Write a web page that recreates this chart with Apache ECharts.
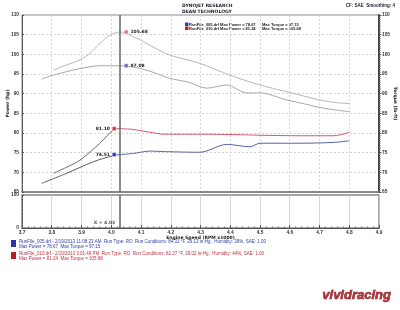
<!DOCTYPE html>
<html><head><meta charset="utf-8">
<script src="https://cdn.jsdelivr.net/npm/echarts@6/dist/echarts.min.js"></script>
<style>html,body{margin:0;padding:0;background:#fff}#c{width:400px;height:310px}</style>
</head><body><div id="c"></div>
<script>
// ---- data ----
const xTicks = [3.7,3.8,3.9,4.0,4.1,4.2,4.3,4.4,4.5,4.6,4.7,4.8,4.9];
const yTicks = [65,70,75,80,85,90,95,100,105,110];
const torque005Rpm = [3.766,3.805,3.85,3.895,3.962,4.03,4.097,4.15,4.197,4.26,4.321,4.388,4.455,4.5,4.59,4.65,4.7,4.75,4.803];
const torque005    = [93.7,94.7,95.6,96.4,97.1,97.1,96.4,95.2,93.9,92.9,91.4,92.2,90.2,90.2,88.4,87.4,86.5,85.9,85.4];
const torque010Rpm = [3.805,3.85,3.895,3.929,3.962,3.996,4.03,4.086,4.14,4.197,4.298,4.399,4.5,4.611,4.7,4.758,4.803];
const torque010    = [96.0,97.3,98.6,100.3,102.8,104.9,105.68,104.1,101.9,99.8,97.7,94.7,92.2,90.1,88.4,87.7,87.5];
const power005Rpm  = [3.766,3.85,3.94,4.01,4.03,4.074,4.13,4.186,4.298,4.388,4.466,4.5,4.634,4.746,4.80];
const power005     = [67.2,69.75,72.7,74.3,74.51,74.8,75.4,75.25,75.1,77.1,76.5,77.4,77.4,77.6,78.0];
const power010Rpm  = [3.805,3.85,3.895,3.962,4.01,4.03,4.074,4.13,4.175,4.25,4.298,4.41,4.52,4.634,4.746,4.79,4.80];
const power010     = [69.75,71.3,73.1,77.4,80.9,81.10,80.9,80.2,79.7,79.7,79.7,79.6,79.4,79.3,79.3,79.9,80.2];
const cursorX = 4.03;
const cursorLabelLevel = 15;
const cursorLabels = {tq010: '105.68', tq005: '97.08', pw010: '81.10', pw005: '74.51'};

const zip = (a, b) => a.map((v, i) => [v, b[i]]);
const before = (a, b) => zip(a, b).filter(p => p[0] <= cursorX);
const after = (a, b) => zip(a, b).filter(p => p[0] >= cursorX);
const valAt = (a, b) => b[a.indexOf(cursorX)];
const F = 'DejaVu Sans';
const L = '"Liberation Sans"';
const lblStyle = {fontSize: 4.8, fontWeight: 'bold', color: '#333', fontFamily: 'Liberation Sans'};

const chart = echarts.init(document.getElementById('c'), null, {renderer: 'canvas'});
const mp = (coord, txt, color, side) => ({
  coord: coord, symbol: 'rect', symbolSize: 4,
  symbolOffset: [side === 'right' ? 6 : -6, 0],
  itemStyle: {color: color, borderColor: '#fff', borderWidth: 0.5},
  label: {show: true, position: side, formatter: txt, fontSize: 4.5, fontWeight: 'bold', color: '#222', fontFamily: F, distance: 2}
});
const lineS = (data, color, yIdx, z, extra) => Object.assign({
  type: 'line', xAxisIndex: 0, yAxisIndex: yIdx, data: data, smooth: 0.3, showSymbol: false,
  lineStyle: {color: color, width: 1}, itemStyle: {color: color}, z: z
}, extra || {});

chart.setOption({
  animation: false,
  grid: [
    {left: 22, right: 21, top: 15, height: 177, show: true, borderColor: '#888', borderWidth: 1, containLabel: false, outerBoundsMode: 'none'},
    {left: 22, right: 21, top: 195, height: 33, show: true, borderColor: '#888', borderWidth: 1.5, containLabel: false, outerBoundsMode: 'none'}
  ],
  xAxis: [
    {gridIndex: 0, type: 'value', min: 3.7, max: 4.9, interval: 0.1,
     axisLabel: {show: false}, axisTick: {show: false},
     axisLine: {lineStyle: {color: '#777', width: 1.5}},
     splitLine: {show: true, lineStyle: {color: '#ccc', type: [2, 2], width: 0.8}}},
    {gridIndex: 1, type: 'value', min: 3.7, max: 4.9, interval: 0.1,
     axisLabel: {...lblStyle, margin: 2, formatter: v => v.toFixed(1)},
     axisTick: {show: true, inside: true, length: 3, lineStyle: {color: '#555'}},
     minorTick: {show: true, splitNumber: 5, length: 1.5, lineStyle: {color: '#777'}},
     axisLine: {lineStyle: {color: '#555', width: 1}},
     splitLine: {show: true, lineStyle: {color: '#ccc', width: 0.8}},
     name: 'Engine Speed (RPM x1000)', nameLocation: 'middle', nameGap: 7, nameMoveOverlap: false,
     nameTextStyle: {fontSize: 4.5, fontWeight: 'bold', color: '#222', fontFamily: F}}
  ],
  yAxis: [
    {gridIndex: 0, type: 'value', min: 65, max: 110, interval: 5, position: 'left',
     axisLabel: {...lblStyle, margin: 3},
     axisLine: {show: true, lineStyle: {color: '#555', width: 1}},
     axisTick: {show: true, inside: true, length: 2, lineStyle: {color: '#555'}},
     minorTick: {show: true, splitNumber: 5, length: 1, lineStyle: {color: '#777'}},
     splitLine: {show: true, lineStyle: {color: '#ccc', type: [2, 2], width: 0.8}},
     name: 'Power (hp)', nameLocation: 'middle', nameGap: 12, nameRotate: 90, nameMoveOverlap: false,
     nameTextStyle: {fontSize: 4.5, fontWeight: 'bold', color: '#222', fontFamily: F}},
    {gridIndex: 0, type: 'value', min: 65, max: 110, interval: 5, position: 'right',
     axisLabel: {...lblStyle, margin: 3},
     axisLine: {show: true, lineStyle: {color: '#444', width: 2}},
     axisTick: {show: true, inside: false, length: 2.5, lineStyle: {color: '#555'}},
     minorTick: {show: true, splitNumber: 10, length: 1.5, lineStyle: {color: '#666'}},
     splitLine: {show: false},
     name: 'Torque (lb-ft)', nameLocation: 'middle', nameGap: 14, nameRotate: -90, nameMoveOverlap: false,
     nameTextStyle: {fontSize: 4.5, fontWeight: 'bold', color: '#222', fontFamily: F}},
    {gridIndex: 1, type: 'value', min: 0, max: 100, interval: 100,
     axisLabel: {...lblStyle, margin: 3},
     axisLine: {show: true, lineStyle: {color: '#555'}},
     axisTick: {show: true, inside: true, length: 2, lineStyle: {color: '#555'}},
     minorTick: {show: true, splitNumber: 10, length: 1, lineStyle: {color: '#777'}},
     splitLine: {show: false}}
  ],
  series: [
    lineS(zip(torque010Rpm, torque010), '#b8b8b8', 1, 2,
      {markPoint: {data: [mp([cursorX, valAt(torque010Rpm, torque010)], cursorLabels.tq010, '#e0788a', 'right')]}}),
    lineS(zip(torque005Rpm, torque005), '#a8a8a8', 1, 2,
      {markPoint: {data: [mp([cursorX, valAt(torque005Rpm, torque005)], cursorLabels.tq005, '#6670c8', 'right')]}}),
    lineS(before(power010Rpm, power010), '#6a6a6a', 0, 3),
    lineS(after(power010Rpm, power010), '#d8576a', 0, 3,
      {markPoint: {data: [mp([cursorX, valAt(power010Rpm, power010)], cursorLabels.pw010, '#e03048', 'left')]}}),
    lineS(before(power005Rpm, power005), '#5a5a5a', 0, 3),
    lineS(after(power005Rpm, power005), '#5563a8', 0, 3,
      {markPoint: {data: [mp([cursorX, valAt(power005Rpm, power005)], cursorLabels.pw005, '#2c3cc0', 'left')]},
       markLine: {symbol: 'none', silent: true, label: {show: false},
         lineStyle: {color: '#666', width: 1.5, type: 'solid'}, data: [{xAxis: cursorX}]}}),
    {type: 'scatter', xAxisIndex: 1, yAxisIndex: 2, data: [[cursorX, cursorLabelLevel]],
     symbolSize: 0, silent: true,
     label: {show: true, position: 'left', distance: 5, formatter: 'X = ' + cursorX.toFixed(2),
             fontSize: 4.5, fontWeight: 'bold', color: '#222', fontFamily: F},
     markLine: {symbol: 'none', silent: true, label: {show: false},
       lineStyle: {color: '#666', width: 1.5, type: 'solid'}, data: [{xAxis: cursorX}]}}
  ],
  graphic: [
    {type: 'text', left: 182, top: 3, style: {text: 'DYNOJET RESEARCH', font: 'bold 4.5px ' + F, fill: '#223'}},
    {type: 'text', left: 182, top: 9, style: {text: 'DEAN TECHNOLOGY', font: 'bold 4.5px ' + F, fill: '#223'}},
    {type: 'text', right: 5, top: 3, style: {text: 'CF: SAE  Smoothing: 4', font: 'bold 4.5px ' + L, fill: '#223'}},
    {type: 'rect', shape: {x: 185, y: 22.5, width: 3.5, height: 3.5}, style: {fill: '#3040b0'}},
    {type: 'rect', shape: {x: 185, y: 26.5, width: 3.5, height: 3.5}, style: {fill: '#c02030'}},
    {type: 'text', left: 189, top: 22.5, style: {text: 'RunFile_005.drf Max Power = 78.67', font: 'bold 4px ' + L, fill: '#222'}},
    {type: 'text', left: 189, top: 26.5, style: {text: 'RunFile_010.drf Max Power = 81.24', font: 'bold 4px ' + L, fill: '#222'}},
    {type: 'text', left: 262, top: 22.5, style: {text: 'Max Torque = 97.15', font: 'bold 4px ' + L, fill: '#222'}},
    {type: 'text', left: 262, top: 26.5, style: {text: 'Max Torque = 105.68', font: 'bold 4px ' + L, fill: '#222'}},
    {type: 'rect', shape: {x: 11, y: 240, width: 5, height: 7}, style: {fill: '#2a36a8'}},
    {type: 'text', left: 19, top: 239.5, style: {text: 'RunFile_005.drf - 2/19/2013 11:08:23 AM  Run Type: RO  Run Conditions: 84.31 °F, 29.13 in-Hg,  Humidity: 39%, SAE: 1.00', font: '4.5px ' + L, fill: '#3040a8'}},
    {type: 'text', left: 19, top: 244.5, style: {text: 'Max Power = 78.67  Max Torque = 97.15', font: '4.5px ' + L, fill: '#3040a8'}},
    {type: 'rect', shape: {x: 11, y: 252, width: 5, height: 7}, style: {fill: '#b82030'}},
    {type: 'text', left: 19, top: 251.5, style: {text: 'RunFile_010.drf - 2/19/2013 3:01:49 PM  Run Type: RO  Run Conditions: 82.27 °F, 29.02 in-Hg,  Humidity: 44%, SAE: 1.00', font: '4.5px ' + L, fill: '#c03040'}},
    {type: 'text', left: 19, top: 256.5, style: {text: 'Max Power = 81.24  Max Torque = 105.68', font: '4.5px ' + L, fill: '#c03040'}},
    {type: 'text', left: 322, top: 289, style: {text: 'vividracing', font: 'italic bold 13px ' + L, fill: '#b8323c', stroke: '#5a1a1e', lineWidth: 0.6}}
  ]
});
</script></body></html>
